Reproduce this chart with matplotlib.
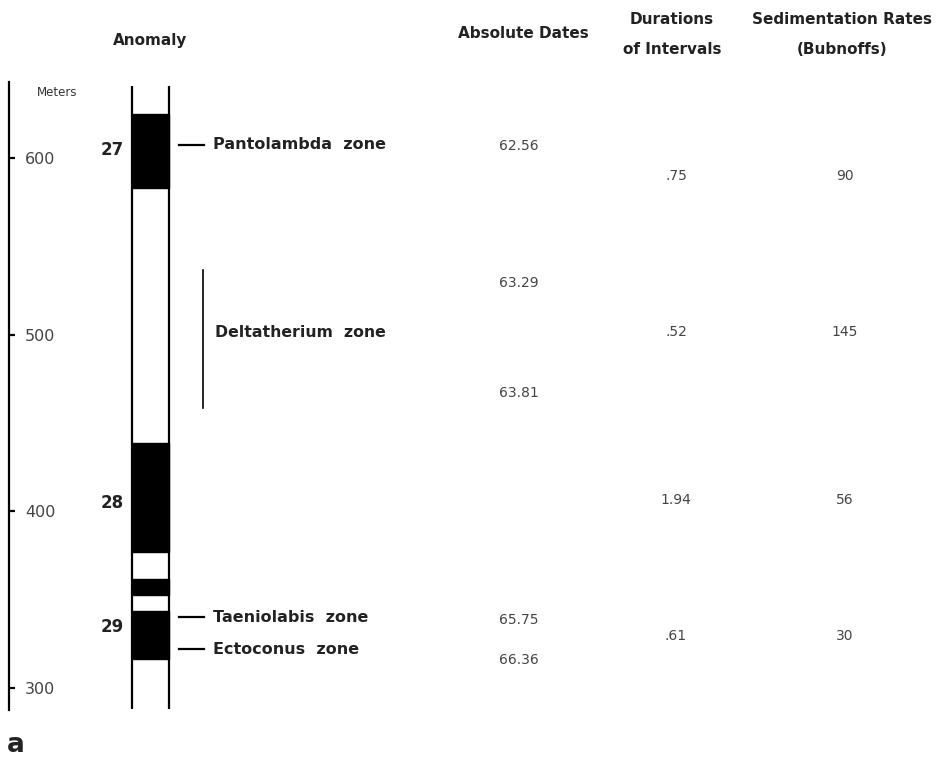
import matplotlib
matplotlib.use("Agg")
import matplotlib.pyplot as plt

plt.rcParams['font.family'] = ['DejaVu Sans']

# ---- data (meters) ----
meter_ticks = [300, 400, 500, 600]
column_range = (288, 641)
axis_range = (287.6, 643)
# black (normal polarity) blocks: (bottom, top)
black_bottoms = [583, 377, 352.6, 316.4]
black_tops = [625, 438.7, 361.7, 343.6]

anomaly_labels = ["27", "28", "29"]
anomaly_levels = [604.5, 405, 334.5]

zone_names = ["Pantolambda  zone", "Taeniolabis  zone", "Ectoconus  zone"]
zone_levels = [607.4, 340, 322]
delta_name = "Deltatherium  zone"
delta_range = (458.5, 536.6)
delta_label_level = 501

date_labels = ["62.56", "63.29", "63.81", "65.75", "66.36"]
date_levels = [606.8, 529, 467, 338.5, 316]

duration_labels = [".75", ".52", "1.94", ".61"]
rate_labels = ["90", "145", "56", "30"]
interval_levels = [590, 501.5, 406.4, 329.4]

# ---- layout ----
W, H = 950, 761
fig = plt.figure(figsize=(W / 100, H / 100), dpi=100)
ax = fig.add_axes([0, 0, 1, 1])
ax.set_xlim(0, W)
px_per_m = 1.7667
ax.set_ylim(600 - (H - 158) / px_per_m, 600 + 158 / px_per_m)


def ypx(p):
    return 600 - (p - 158) / px_per_m


for s in ['top', 'bottom', 'left']:
    ax.spines[s].set_visible(False)
ax.spines['right'].set_position(('data', 9))
ax.spines['right'].set_bounds(*axis_range)
ax.spines['right'].set_linewidth(1.6)
ax.yaxis.tick_right()
ax.set_yticks(meter_ticks)
ax.set_yticklabels([str(t) for t in meter_ticks])
ax.tick_params(axis='y', direction='out', length=4.5, width=1.6, pad=7,
               labelsize=11.5, labelcolor='#444444')
ax.set_xticks([])

ax.text(37, ypx(92), "Meters", fontsize=8.5, va='center',
        ha='left', color='#333333')

# column
col_left, col_right = 132, 169
for xx in (col_left, col_right):
    ax.plot([xx, xx], column_range, color='black', lw=1.6, solid_capstyle='butt')
for b, t in zip(black_bottoms, black_tops):
    ax.bar((col_left + col_right) / 2, t - b, bottom=b, width=col_right - col_left,
           color='black', edgecolor='black', linewidth=1.0)

for lab, lv in zip(anomaly_labels, anomaly_levels):
    ax.text(124, lv, lab, fontsize=12, fontweight='bold', ha='right', va='center',
            color='#222222')

# zone markers
for name, lv in zip(zone_names, zone_levels):
    ax.plot([179, 204], [lv, lv], color='black', lw=1.6)
    ax.text(213, lv, name, fontsize=11.5, fontweight='bold', ha='left', va='center',
            color='#222222')
ax.plot([203, 203], delta_range, color='black', lw=1.2)
ax.text(215, delta_label_level, delta_name, fontsize=11.3, fontweight='bold',
        ha='left', va='center', color='#222222')

# columns of numbers
num = dict(fontsize=10, ha='center', va='center', color='#444444')
for lab, lv in zip(date_labels, date_levels):
    ax.text(519, lv, lab, **num)
for lab, lv in zip(duration_labels, interval_levels):
    ax.text(676, lv, lab, **num)
for lab, lv in zip(rate_labels, interval_levels):
    ax.text(845, lv, lab, **num)

# headers
hdr = dict(fontsize=11, fontweight='bold', ha='center', va='center', color='#222222')
ax.text(150, ypx(40), "Anomaly", **hdr)
ax.text(523, ypx(33), "Absolute Dates", **hdr)
ax.text(672, ypx(20), "Durations", **hdr)
ax.text(672, ypx(49), "of Intervals", **hdr)
ax.text(842, ypx(20), "Sedimentation Rates", **hdr)
ax.text(842, ypx(49), "(Bubnoffs)", **hdr)

ax.text(7, ypx(745), "a", fontsize=19, fontweight='bold', ha='left', va='center',
        color='#222222')

fig.savefig("out.png", dpi=100)
